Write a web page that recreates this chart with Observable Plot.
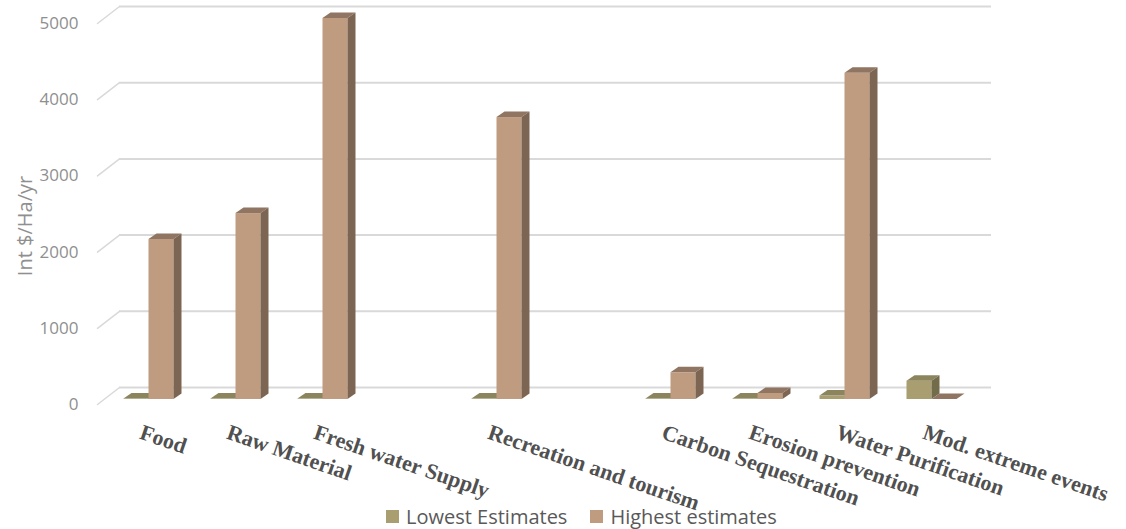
<!DOCTYPE html>
<html>
<head>
<meta charset="utf-8">
<script src="https://cdn.jsdelivr.net/npm/d3@7"></script>
<script src="https://cdn.jsdelivr.net/npm/@observablehq/plot@0.6"></script>
<style>
  html, body { margin: 0; padding: 0; background: #fff; }
  #wrap { position: relative; width: 1126px; height: 529px; overflow: hidden; }
  #chart svg { display: block; }
  #legend { position: absolute; left: 386px; top: 500px; height: 25px; padding-top: 4px; display: flex; align-items: center;
            font-family: "Open Sans", sans-serif; font-size: 20px; color: #595959; background: transparent; }
  #legend .item { display: flex; align-items: center; margin-right: 23px; }
  #legend .sw { width: 13px; height: 13px; margin-right: 7px; }
</style>
</head>
<body>
<div id="wrap">
<div id="chart"></div>
<div id="legend"></div>
</div>
<script>
const categories = ["Food", "Raw Material", "Fresh water Supply", "", "Recreation and tourism", " ",
  "Carbon Sequestration", "Erosion prevention", "Water Purification", "Mod. extreme events"];
const lowest  = [5, 5, 5, null, 5, null, 5, 5, 45, 240];
const highest = [2100, 2440, 5000, null, 3700, null, 350, 80, 4280, 0];
const yTicks = [0, 1000, 2000, 3000, 4000, 5000];
const seriesNames = ["Lowest Estimates", "Highest estimates"];
const seriesColors = [
  {front: "#a89e6f", top: "#8b845c", side: "#736c4b"},
  {front: "#bf9b80", top: "#8f7562", side: "#7d6553"}
];

const rows = categories.map((c, i) => ({category: c, low: lowest[i], high: highest[i]}));

function bars3d(key, colors, opts) {
  const ddx = 8, ddy = 5.5;
  return Plot.barY(rows.filter(d => d[key] != null), {
    x: "category", y: key, fill: colors.front, dx: 6.5, dy: -5, ...opts,
    render(index, scales, values, dims, ctx, next) {
      const g = next(index, scales, values, dims, ctx);
      const sel = d3.select(g);
      const rects = [];
      sel.selectAll("rect").each(function () { rects.push(this); });
      for (const el of rects) {
        const x = +el.getAttribute("x"), y = +el.getAttribute("y");
        const w = +el.getAttribute("width"), h = +el.getAttribute("height");
        sel.append("polygon")
          .attr("points", [[x, y], [x + ddx, y - ddy], [x + w + ddx, y - ddy], [x + w, y]].join(" "))
          .attr("fill", colors.top);
        sel.append("polygon")
          .attr("points", [[x + w, y], [x + w + ddx, y - ddy], [x + w + ddx, y + h - ddy], [x + w, y + h]].join(" "))
          .attr("fill", colors.side);
      }
      return g;
    }
  });
}

const lineShape = { draw(context, l) { context.moveTo(0, 0); context.lineTo(0, -l); } };

const chart = Plot.plot({
  width: 1126, height: 529,
  marginLeft: 97, marginRight: 157, marginTop: 23, marginBottom: 125,
  x: {domain: categories, paddingInner: 0.4266, paddingOuter: 0.2133, axis: null},
  y: {domain: [0, 5000], axis: null},
  marks: [
    Plot.ruleY(yTicks, {stroke: "#d9d9d9", strokeWidth: 2, dx: 22, dy: -17}),
    Plot.vector(yTicks, {y: d => d, frameAnchor: "left", length: 27.8, rotate: 52.3, anchor: "start",
      shape: lineShape, stroke: "#d9d9d9", strokeWidth: 1.5}),
    Plot.text(yTicks, {y: d => d, text: d => String(d), frameAnchor: "left", dx: -19, textAnchor: "end",
      fill: "#8f8f8f", fontSize: 17, fontFamily: "Open Sans"}),
    bars3d("low", seriesColors[0], {insetRight: 25}),
    bars3d("high", seriesColors[1], {insetLeft: 25}),
    Plot.text(categories, {x: d => d, text: d => d, frameAnchor: "bottom", rotate: 19, textAnchor: "start",
      lineAnchor: "top", dy: 19, dx: 1, fontFamily: "Liberation Serif", fontWeight: "bold", fontSize: 22,
      fill: "#505050", ariaLabel: "category labels"}),
    Plot.text(["Int $/Ha/yr"], {frameAnchor: "left", rotate: -90, dx: -72, dy: 12, textAnchor: "middle",
      fontSize: 20, fill: "#8f8f8f", fontFamily: "Open Sans"})
  ]
});
d3.select(chart).selectAll('g[aria-label="category labels"] text').style("letter-spacing", "0.9px");
document.getElementById("chart").appendChild(chart);

const legend = document.getElementById("legend");
seriesNames.forEach((name, i) => {
  const item = document.createElement("div");
  item.className = "item";
  const sw = document.createElement("div");
  sw.className = "sw";
  sw.style.background = seriesColors[i].front;
  const label = document.createElement("span");
  label.textContent = name;
  item.appendChild(sw);
  item.appendChild(label);
  legend.appendChild(item);
});
</script>
</body>
</html>
